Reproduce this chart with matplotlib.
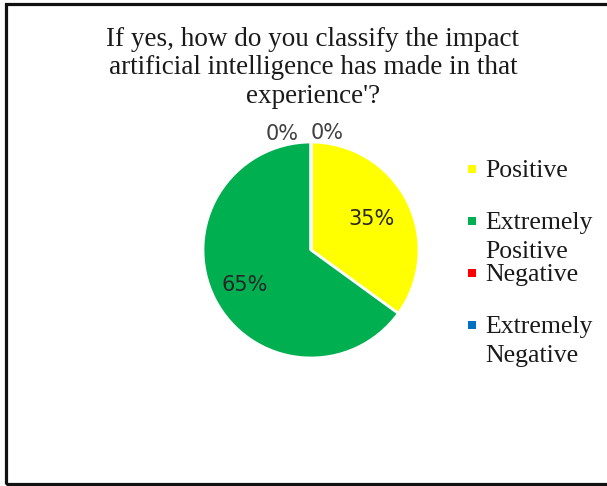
import matplotlib
matplotlib.use("Agg")
import matplotlib.pyplot as plt
from matplotlib.patches import Rectangle

# --- DATA ---
categories = ["Positive", "Extremely\nPositive", "Negative", "Extremely\nNegative"]
shares = [35, 65, 0, 0]
colors = ["#FFFF00", "#00B050", "#FF0000", "#0070C0"]
title = ("If yes, how do you classify the impact\n"
         "artificial intelligence has made in that\n"
         "experience'?")

W, H = 607, 486
fig = plt.figure(figsize=(W / 100, H / 100), dpi=100)

# outer frame (open on the right like the screenshot)
fig.patches.append(Rectangle((5.5 / W, 2.5 / H), 1.1, (H - 7) / H,
                             transform=fig.transFigure, fill=False,
                             edgecolor="#111111", linewidth=2.3,
                             clip_on=False))

fig.text(313 / W, 1 - 27 / H, title, ha="center", va="top",
         fontsize=19.5, family="Liberation Serif", color="#1a1a1a",
         linespacing=1.18)

# pie: centre (311, 250) px, radius 108 px; pie() sets limits to +-1.25
cx, cy, r = 311, 250, 108
half = 1.25 * r
ax = fig.add_axes([(cx - half) / W, (H - cy - half) / H, 2 * half / W, 2 * half / H])
wedges, texts, autotexts = ax.pie(
    shares, colors=colors, startangle=90, counterclock=False,
    autopct="%1.0f%%", pctdistance=0.63,
    wedgeprops=dict(edgecolor="white", linewidth=2),
    textprops=dict(fontsize=15, color="#262626", family="DejaVu Sans"))

# the two 0% labels sit side by side above the pie
zero_pos = [(-0.27, 1.07), (0.15, 1.08)]
k = 0
for v, t in zip(shares, autotexts):
    if v == 0:
        t.set_position(zero_pos[k])
        t.set_color("#404040")
        k += 1
# 65% label sits a little further out in the original
autotexts[1].set_position((-0.61, -0.32))

# legend, drawn by hand so the marker lines up with the first text line
y0, step = 169, 52
for i, (lab, c) in enumerate(zip(categories, colors)):
    yc = y0 + i * step
    fig.patches.append(Rectangle((468 / W, 1 - (yc + 4) / H), 8 / W, 8 / H,
                                 transform=fig.transFigure, facecolor=c,
                                 edgecolor="none"))
    fig.text(485 / W, 1 - (yc - 9) / H, lab, ha="left", va="top",
             fontsize=18.5, family="Liberation Serif", color="#1a1a1a",
             linespacing=1.42)

fig.savefig("out.png", dpi=100)
